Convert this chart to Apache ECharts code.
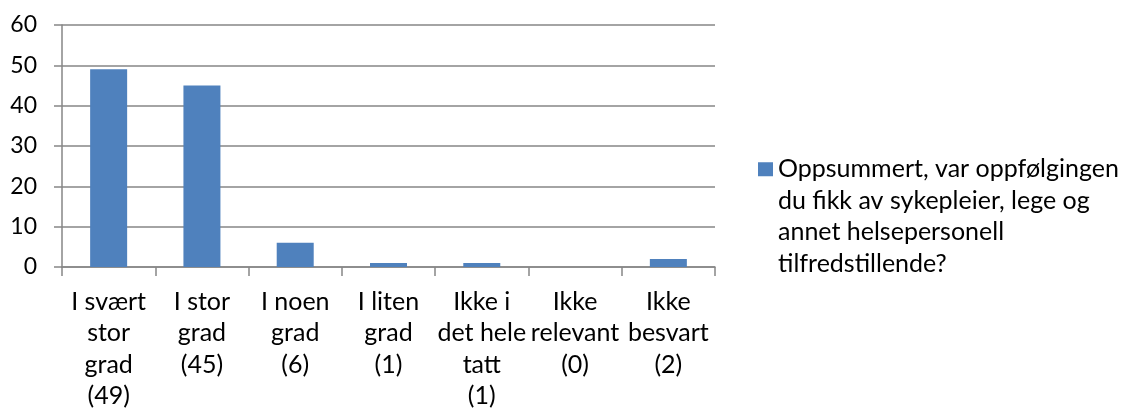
<!DOCTYPE html>
<html><head><meta charset="utf-8">
<script src="https://cdn.jsdelivr.net/npm/echarts@6/dist/echarts.min.js"></script>
<style>html,body{margin:0;padding:0;background:#fff}#c{width:1122px;height:412px}</style>
</head><body><div id="c"></div>
<script>
const categories = ["I svært\nstor\ngrad\n(49)", "I stor\ngrad\n(45)", "I noen\ngrad\n(6)", "I liten\ngrad\n(1)", "Ikke i\ndet hele\ntatt\n(1)", "Ikke\nrelevant\n(0)", "Ikke\nbesvart\n(2)"];
const values = [49, 45, 6, 1, 1, 0, 2];
const seriesName = "Oppsummert, var oppfølgingen du fikk av sykepleier, lege og annet helsepersonell tilfredstillende?";
const legendLines = ["Oppsummert, var oppfølgingen", "du fikk av sykepleier, lege og", "annet helsepersonell", "tilfredstillende?"];
const yTicks = [0, 10, 20, 30, 40, 50, 60];

const FONT = 'Lato';
const chart = echarts.init(document.getElementById('c'), null, {renderer: 'canvas'});
chart.setOption({
  animation: false,
  textStyle: {fontFamily: FONT},
  grid: {left: 62, right: 407, top: 25, bottom: 144, containLabel: false},
  legend: {
    left: 753, top: 54,
    orient: 'vertical',
    itemWidth: 15, itemHeight: 14,
    icon: 'rect',
    data: [seriesName],
    formatter: () => '\n\n\n' + legendLines.join('\n'),
    textStyle: {fontFamily: FONT, fontSize: 25, color: '#000', lineHeight: 31.5}
  },
  xAxis: {
    type: 'category',
    data: categories,
    axisLine: {lineStyle: {color: '#868686', width: 1.5}},
    axisTick: {show: true, length: 9, lineStyle: {color: '#868686', width: 1.5}},
    axisLabel: {color: '#000', fontFamily: FONT, fontSize: 25, lineHeight: 31.5, margin: 19, interval: 0}
  },
  yAxis: {
    type: 'value', min: 0, max: 60, interval: 10,
    axisLine: {show: true, lineStyle: {color: '#868686', width: 1.5}},
    axisTick: {show: true, length: 8, lineStyle: {color: '#868686', width: 1.5}},
    splitLine: {lineStyle: {color: '#868686', width: 1.5}},
    axisLabel: {color: '#000', fontFamily: FONT, fontSize: 23, margin: 25,
      formatter: v => yTicks.includes(v) ? String(v) : ''}
  },
  series: [{
    name: seriesName,
    type: 'bar',
    data: values,
    barWidth: 37,
    itemStyle: {color: '#4F81BD'}
  }]
});
</script></body></html>
